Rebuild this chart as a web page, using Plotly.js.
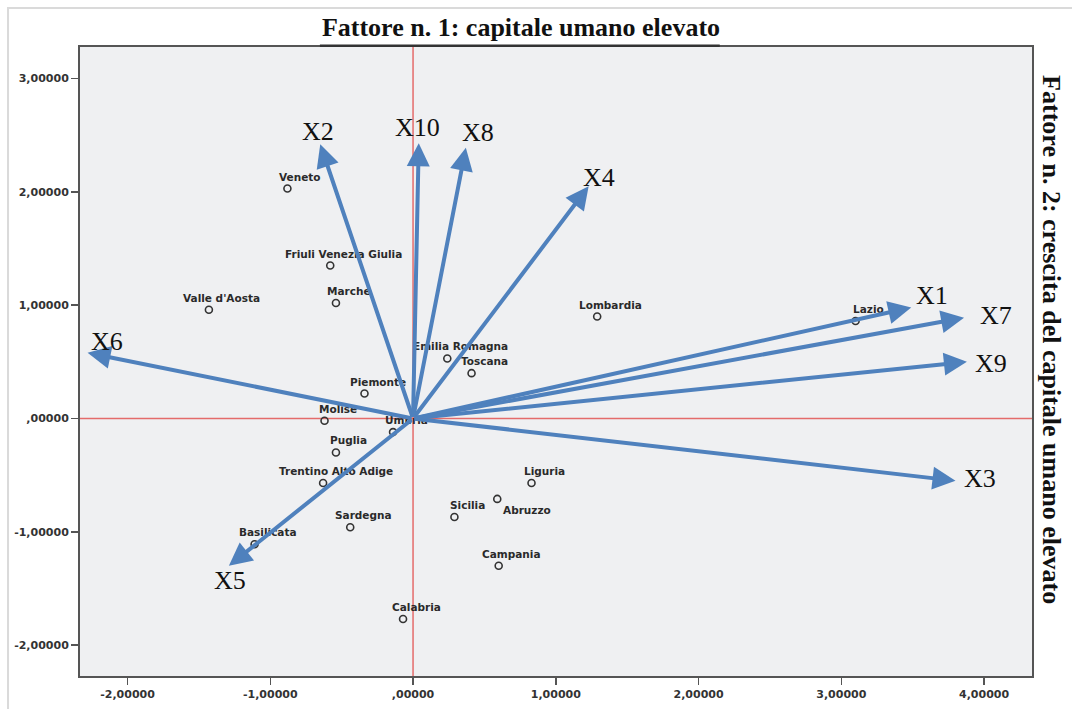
<!DOCTYPE html>
<html>
<head>
<meta charset="utf-8">
<script src="https://cdn.plot.ly/plotly-3.0.1.min.js"></script>
<style>html,body{margin:0;padding:0;background:#fff;}#chart{width:1072px;height:709px;}</style>
</head>
<body>
<div id="chart"></div>
<script>
// Regions (factor scores)
const regions = ["Veneto","Friuli Venezia Giulia","Marche","Valle d'Aosta","Lombardia","Lazio","Emilia Romagna","Toscana","Piemonte","Molise","Umbria","Puglia","Trentino Alto Adige","Liguria","Abruzzo","Sicilia","Sardegna","Basilicata","Campania","Calabria"];
const regionX = [-0.88,-0.58,-0.54,-1.43,1.29,3.10,0.24,0.41,-0.34,-0.62,-0.14,-0.54,-0.63,0.83,0.59,0.29,-0.44,-1.11,0.60,-0.07];
const regionY = [2.03,1.35,1.02,0.96,0.90,0.86,0.53,0.40,0.22,-0.02,-0.12,-0.30,-0.57,-0.57,-0.71,-0.87,-0.96,-1.11,-1.30,-1.77];

// Variables (loading vectors)
const varNames = ["X1","X2","X3","X4","X5","X6","X7","X8","X9","X10"];
const varX = [3.49,-0.65,3.80,1.23,-1.29,-2.28,3.86,0.37,3.88,0.04];
const varY = [0.98,2.42,-0.55,2.05,-1.30,0.58,0.89,2.39,0.50,2.43];

// Axis ticks
const tickVals = [-2,-1,0,1,2,3,4];
const xTickText = ["-2,00000","-1,00000",",00000","1,00000","2,00000","3,00000","4,00000"];
const yTickVals = [-2,-1,0,1,2,3];
const yTickText = ["-2,00000","-1,00000",",00000","1,00000","2,00000","3,00000"];

// label offsets (pixels) – layout only
const regionShift = {default:[13,12], "Abruzzo":[30,-11]};
const varShift = {X1:[21,12],X2:[-2,13],X3:[25,2],X4:[10,9],X5:[1,-15],X6:[19,11],X7:[32,2],X8:[12,15],X9:[24,-2],X10:[-1,16]};

const arrowColor = '#4f81bd';
const sansBold = {family:'DejaVu Sans', size:10.5, color:'#2a2a2a', weight:'bold'};
const annotations = [];

regions.forEach((r,i)=>{
  const s = regionShift[r] || regionShift.default;
  annotations.push({
    x: regionX[i], y: regionY[i], xref:'x', yref:'y', text: r, showarrow:false,
    xshift: s[0], yshift: s[1], font: sansBold
  });
});

varNames.forEach((v,i)=>{
  annotations.push({
    x: varX[i], y: varY[i], xref:'x', yref:'y', ax:0, ay:0, axref:'x', ayref:'y',
    text:'', showarrow:true, arrowhead:2, arrowsize:1.15, arrowwidth:4, arrowcolor:arrowColor,
    standoff:0, startstandoff:0
  });
});
varNames.forEach((v,i)=>{
  const s = varShift[v];
  annotations.push({
    x: varX[i], y: varY[i], xref:'x', yref:'y', text: v, showarrow:false,
    xshift: s[0], yshift: s[1],
    font:{family:'Liberation Serif, Times New Roman', size:26, color:'#111'}
  });
});

annotations.push({
  x: 1.021, y: 0.534, xref:'paper', yref:'paper', xanchor:'center', yanchor:'middle', showarrow:false, textangle:90,
  text:'Fattore n. 2: crescita del capitale umano elevato',
  font:{family:'Liberation Serif, Times New Roman', size:26, color:'#111', weight:'bold'}
});

const trace = {
  x: regionX, y: regionY, text: regions, type:'scatter', mode:'markers',
  marker:{symbol:'circle-open', size:7, color:'#333', line:{width:1.6, color:'#333'}},
  hoverinfo:'text', cliponaxis:false
};

const tickFont = {family:'DejaVu Sans', size:11, color:'#333', weight:'bold'};

const layout = {
  width:1072, height:709,
  margin:{l:80, r:40, t:47, b:33},
  paper_bgcolor:'#ffffff', plot_bgcolor:'#eff0f2',
  showlegend:false,
  title:{text:'<b>Fattore n. 1: capitale umano elevato</b>', x:0.486, xref:'container', y:0.962, yref:'container', xanchor:'center', yanchor:'middle',
    font:{family:'Liberation Serif, Times New Roman', size:26, color:'#111'}},
  xaxis:{range:[-2.333,4.336], tickvals:tickVals, ticktext:xTickText, showgrid:false, zeroline:false,
    showline:true, mirror:true, linecolor:'#555', linewidth:2, ticks:'outside', ticklen:7, tickwidth:1.5, tickcolor:'#555',
    tickfont: tickFont},
  yaxis:{range:[-2.273,3.279], tickvals:yTickVals, ticktext:yTickText, showgrid:false, zeroline:false,
    showline:true, mirror:true, linecolor:'#555', linewidth:2, ticks:'outside', ticklen:7, tickwidth:1.5, tickcolor:'#555',
    tickfont: tickFont},
  shapes:[
    {type:'line', xref:'x', yref:'paper', x0:0, x1:0, y0:0, y1:1, line:{color:'#e46b6b', width:1.5}, layer:'below'},
    {type:'line', xref:'paper', yref:'y', x0:0, x1:1, y0:0, y1:0, line:{color:'#e46b6b', width:1.5}, layer:'below'},
    {type:'line', xref:'paper', yref:'paper', x0:0.252, x1:0.672, y0:1.002, y1:1.002, line:{color:'#333', width:2.5}},
    {type:'rect', xref:'paper', yref:'paper', x0:-0.0756, x1:1.2, y0:-0.3, y1:1.062, line:{color:'#dadada', width:2}, layer:'below'}
  ],
  annotations: annotations
};

Plotly.newPlot('chart', [trace], layout, {displayModeBar:false, staticPlot:true});
</script>
</body>
</html>
